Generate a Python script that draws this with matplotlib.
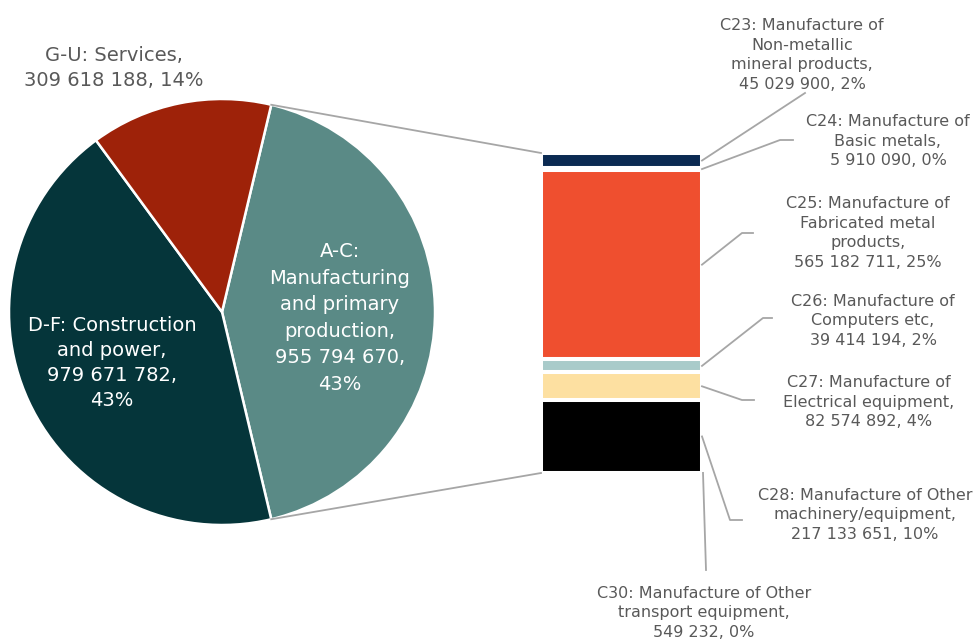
import numpy as np
import matplotlib.pyplot as plt

# main breakdown (pie)
sectors = ["A-C", "D-F", "G-U"]
sector_names = ["A-C:\nManufacturing\nand primary\nproduction,",
                "D-F: Construction\nand power,",
                "G-U: Services,"]
sector_values = [955794670, 979671782, 309618188]
sector_pct = ["43%", "43%", "14%"]
sector_colors = ["#5A8A86", "#05353A", "#9E2209"]

# A-C split into industries (stacked bar)
industries = ["C23", "C24", "C25", "C26", "C27", "C28", "C30"]
industry_names = ["C23: Manufacture of\nNon-metallic\nmineral products,",
                  "C24: Manufacture of\nBasic metals,",
                  "C25: Manufacture of\nFabricated metal\nproducts,",
                  "C26: Manufacture of\nComputers etc,",
                  "C27: Manufacture of\nElectrical equipment,",
                  "C28: Manufacture of Other\nmachinery/equipment,",
                  "C30: Manufacture of Other\ntransport equipment,"]
industry_values = [45029900, 5910090, 565182711, 39414194, 82574892, 217133651, 549232]
industry_pct = ["2%", "0%", "25%", "2%", "4%", "10%", "0%"]
industry_colors = ["#0B2A52", "#8C8C8C", "#EF4F2F", "#A9CBCA", "#FDE0A1", "#000000", "#595959"]

W, H = 978, 640


def fmt(v):
    return f"{v:,}".replace(",", " ")


fig = plt.figure(figsize=(W / 100, H / 100), dpi=100)

# overlay in pixel coordinates for text and leader lines
ov = fig.add_axes([0, 0, 1, 1], zorder=5)
ov.set_xlim(0, W)
ov.set_ylim(H, 0)
ov.axis("off")


def to_ov(ax, xy):
    return ov.transData.inverted().transform(ax.transData.transform(xy))


# pie
cx, cy, r = 222, 312, 213
pax = fig.add_axes([(cx - r) / W, (H - cy - r) / H, 2 * r / W, 2 * r / H])
start = 360 * sector_values[0] / sum(sector_values) / 2
pax.pie(sector_values, colors=sector_colors, startangle=start, counterclock=False,
        wedgeprops=dict(edgecolor="white", linewidth=1.8))
pax.set_xlim(-1, 1)
pax.set_ylim(-1, 1)
pax.set_aspect("equal")

label_pos = [(340, 318), (112, 363), (114, 68)]
label_col = ["white", "white", "#595959"]
label_sp = [1.5, 1.42, 1.45]
for name, v, p, pos, c, sp in zip(sector_names, sector_values, sector_pct,
                                  label_pos, label_col, label_sp):
    txt = f"{name}\n{fmt(v)},\n{p}" if c == "white" else f"{name}\n{fmt(v)}, {p}"
    ov.text(pos[0], pos[1], txt, ha="center", va="center", color=c,
            fontsize=14, linespacing=sp)

# stacked bar
bax = fig.add_axes([541 / W, (H - 473) / H, 161 / W, 320 / H])
total_ac = sum(industry_values)
bottoms = np.concatenate([[0], np.cumsum(industry_values)[:-1]])
bax.bar(0.5, industry_values, bottom=bottoms, width=1, color=industry_colors,
        edgecolor="white", linewidth=2.9, clip_on=False)
bax.set_xlim(0, 1)
bax.set_ylim(total_ac, 0)
bax.axis("off")

# connectors from the A-C slice to the bar
a = np.deg2rad(start)
for sgn, yb in [(1, 0), (-1, total_ac)]:
    p0 = to_ov(pax, (np.cos(a), sgn * np.sin(a)))
    p1 = to_ov(bax, (0, yb))
    ov.plot([p0[0], p1[0]], [p0[1], p1[1]], color="#A6A6A6", lw=1.3)

# industry labels with leader lines
text_pos = [(802, 55), (888, 141), (868, 233), (873, 321), (869, 402), (865, 515), (704, 613)]
elbows = [[(805, 93)],
          [(780, 140), (793, 140)],
          [(742, 233), (753, 233)],
          [(763, 318), (772, 318)],
          [(742, 400), (754, 400)],
          [(730, 520), (742, 520)],
          [(706, 570)]]
for name, v, p, b, pos, pts in zip(industry_names, industry_values, industry_pct,
                                   bottoms, text_pos, elbows):
    s = to_ov(bax, (1, b + v / 2))
    if pts[0][0] < 710:
        s = (s[0] + 1, s[1])
    xs = [s[0]] + [q[0] for q in pts]
    ys = [s[1]] + [q[1] for q in pts]
    ov.plot(xs, ys, color="#A6A6A6", lw=1.3)
    ov.text(pos[0], pos[1], f"{name}\n{fmt(v)}, {p}", ha="center", va="center",
            color="#595959", fontsize=11.5, linespacing=1.38)

fig.savefig("out.png", dpi=100)
